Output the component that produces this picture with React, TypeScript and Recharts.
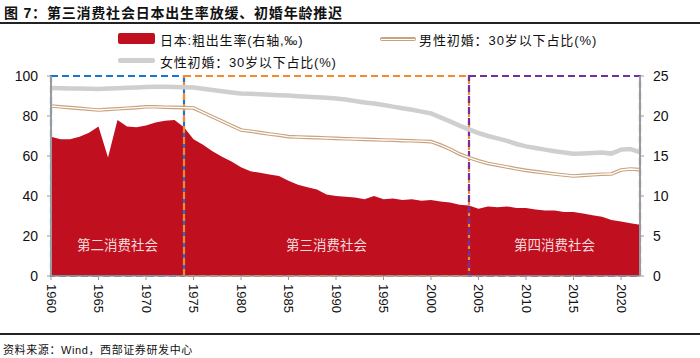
import {
  Area,
  ComposedChart,
  Line,
  ReferenceArea,
  XAxis,
  YAxis,
} from "recharts";

const years = Array.from({ length: 63 }, (_, i) => 1960 + i);

// 日本粗出生率 (‰, right axis)
const birthRate = [
  17.4, 17.1, 17.1, 17.4, 17.9, 18.7, 14.8, 19.5, 18.7, 18.6,
  18.8, 19.2, 19.4, 19.5, 18.6, 17.1, 16.4, 15.6, 14.9, 14.3,
  13.6, 13.1, 12.9, 12.7, 12.5, 11.9, 11.4, 11.1, 10.8, 10.2,
  10.0, 9.9, 9.8, 9.6, 10.0, 9.6, 9.7, 9.5, 9.6, 9.4,
  9.5, 9.3, 9.2, 8.9, 8.8, 8.4, 8.7, 8.6, 8.7, 8.5,
  8.5, 8.3, 8.2, 8.2, 8.0, 8.0, 7.8, 7.6, 7.4, 7.0,
  6.8, 6.6, 6.4,
];

// 男性初婚：30岁以下占比 (%)
const maleUnder30 = [
  85.0, 84.6, 84.2, 83.8, 83.4, 83.0, 83.3, 83.6, 83.9, 84.2,
  84.6, 84.6, 84.4, 84.3, 84.2, 84.0, 81.8, 79.6, 77.4, 75.2,
  73.0, 72.4, 71.7, 71.0, 70.4, 69.7, 69.5, 69.3, 69.2, 69.0,
  68.8, 68.6, 68.5, 68.3, 68.2, 68.0, 67.9, 67.7, 67.6, 67.4,
  67.2, 65.5, 63.4, 61.0, 59.2, 57.6, 56.3, 55.4, 54.5, 53.6,
  52.8, 52.2, 51.6, 51.0, 50.5, 50.0, 50.3, 50.6, 50.9, 51.0,
  53.0, 53.5, 53.2,
];

// 女性初婚：30岁以下占比 (%)
const femaleUnder30 = [
  94.0, 93.9, 93.8, 93.7, 93.6, 93.5, 93.7, 93.9, 94.1, 94.3,
  94.5, 94.6, 94.6, 94.5, 94.4, 94.2, 93.6, 93.0, 92.4, 91.8,
  91.3, 91.1, 90.9, 90.6, 90.4, 90.2, 89.9, 89.6, 89.4, 89.1,
  88.8, 88.2, 87.5, 86.8, 86.2, 85.5, 84.7, 83.9, 83.1, 82.2,
  81.3, 79.3, 77.3, 75.2, 73.3, 71.5, 70.0, 68.8, 67.6, 66.0,
  64.8, 64.0, 63.2, 62.4, 61.7, 61.1, 61.3, 61.5, 61.8, 61.2,
  63.2, 63.5, 61.8,
];

const leftTicks = [0, 10, 20, 30, 40, 50, 60, 70, 80, 90, 100];
const rightTicks = [0, 5, 10, 15, 20, 25];

const stages = [
  { from: 1960, to: 1974, name: "第二消费社会", color: "#1b75cf" },
  { from: 1974, to: 2004, name: "第三消费社会", color: "#f58a2c" },
  { from: 2004, to: 2022, name: "第四消费社会", color: "#7030a0" },
];

const data = years.map((year, i) => ({
  year,
  birth: birthRate[i],
  male: maleUnder30[i],
  female: femaleUnder30[i],
}));

const latin = "'Liberation Sans', Arial, 'Noto Sans CJK SC', sans-serif";
const cjk = "'Liberation Sans', 'Noto Sans CJK SC', sans-serif";

function YearTick({ x, y, payload }: any) {
  return (
    <text
      x={x}
      y={y}
      transform={`rotate(90 ${x} ${y})`}
      textAnchor="start"
      dominantBaseline="central"
      fontSize={13}
      fontFamily={latin}
      fill="#111"
    >
      {payload.value}
    </text>
  );
}

export default function App() {
  return (
    <div
      style={{
        position: "absolute",
        left: 0,
        top: 0,
        width: 700,
        height: 358,
        background: "#fff",
        overflow: "hidden",
        fontFamily: cjk,
      }}
    >
      <div
        style={{
          position: "absolute",
          left: 4,
          top: 2,
          fontSize: 14,
          fontWeight: 600,
          letterSpacing: 0.8,
          color: "#111",
          whiteSpace: "nowrap",
        }}
      >
        图 7：第三消费社会日本出生率放缓、初婚年龄推迟
      </div>
      <div style={{ position: "absolute", left: 0, top: 22, width: 700, height: 2, background: "#222" }} />

      {/* legend */}
      <div style={{ position: "absolute", left: 118, top: 33, width: 37, height: 11, background: "#c00f1f", borderRadius: 2 }} />
      <div style={{ position: "absolute", left: 160, top: 30, fontSize: 13, letterSpacing: 0.8, color: "#111", whiteSpace: "nowrap" }}>
        日本:粗出生率(右轴,‰)
      </div>
      <div style={{ position: "absolute", left: 380, top: 37, width: 36, height: 4, background: "#c9a37e", borderRadius: 2 }} />
      <div style={{ position: "absolute", left: 381, top: 38.5, width: 34, height: 1.2, background: "#fff" }} />
      <div style={{ position: "absolute", left: 419, top: 30, fontSize: 13, letterSpacing: 0.9, color: "#111", whiteSpace: "nowrap" }}>
        男性初婚：30岁以下占比(%)
      </div>
      <div style={{ position: "absolute", left: 118, top: 58, width: 37, height: 5, background: "#cfcfcf", borderRadius: 2 }} />
      <div style={{ position: "absolute", left: 160, top: 52, fontSize: 13, letterSpacing: 0.8, color: "#111", whiteSpace: "nowrap" }}>
        女性初婚：30岁以下占比(%)
      </div>

      <div style={{ position: "absolute", left: 0, top: 0 }}>
        <ComposedChart
          width={700}
          height={335}
          data={data}
          margin={{ top: 76, right: 17, bottom: 19, left: 0 }}
        >
          <XAxis
            dataKey="year"
            interval={4}
            tick={<YearTick />}
            tickSize={4}
            tickMargin={4}
            height={40}
            stroke="#9a9a9a"
            axisLine={{ stroke: "#9a9a9a", strokeWidth: 1.5 }}
          />
          <YAxis
            yAxisId="left"
            domain={[0, 100]}
            ticks={leftTicks}
            width={51}
            tickSize={4}
            tickMargin={9}
            stroke="#9a9a9a"
            axisLine={{ stroke: "#9a9a9a", strokeWidth: 2 }}
            tick={{ fill: "#111", fontSize: 14, fontFamily: latin }}
          />
          <YAxis
            yAxisId="right"
            orientation="right"
            domain={[0, 25]}
            ticks={rightTicks}
            width={43}
            tickSize={4}
            tickMargin={9}
            stroke="#9a9a9a"
            axisLine={{ stroke: "#9a9a9a", strokeWidth: 2 }}
            tick={{ fill: "#111", fontSize: 14, fontFamily: latin, textAnchor: "start" }}
          />
          <Area
            yAxisId="right"
            dataKey="birth"
            type="linear"
            fill="#c00f1f"
            fillOpacity={1}
            stroke="none"
            isAnimationActive={false}
          />
          <Line
            yAxisId="left"
            dataKey="female"
            type="linear"
            stroke="#cfcfcf"
            strokeWidth={4.5}
            dot={false}
            isAnimationActive={false}
          />
          <Line
            yAxisId="left"
            dataKey="male"
            type="linear"
            stroke="#c9a37e"
            strokeWidth={3.6}
            dot={false}
            isAnimationActive={false}
          />
          <Line
            yAxisId="left"
            dataKey="male"
            type="linear"
            stroke="#ffffff"
            strokeWidth={1.3}
            dot={false}
            isAnimationActive={false}
          />
          {stages.map((s) => (
            <ReferenceArea
              key={s.name}
              yAxisId="left"
              x1={s.from}
              x2={s.to}
              y1={0}
              y2={100}
              fill="none"
              fillOpacity={0}
              stroke={s.color}
              strokeWidth={2.2}
              strokeDasharray="7 4"
              label={{
                value: s.name,
                position: "insideBottom",
                offset: 26,
                fill: "#f6dcdc",
                fontSize: 13.5,
                fontFamily: cjk,
              }}
            />
          ))}
        </ComposedChart>
      </div>

      <div style={{ position: "absolute", left: 0, top: 333, width: 700, height: 1.5, background: "#222" }} />
      <div style={{ position: "absolute", left: 3, top: 341, fontSize: 11, letterSpacing: 0.6, color: "#111", whiteSpace: "nowrap" }}>
        资料来源：Wind，西部证券研发中心
      </div>
    </div>
  );
}
